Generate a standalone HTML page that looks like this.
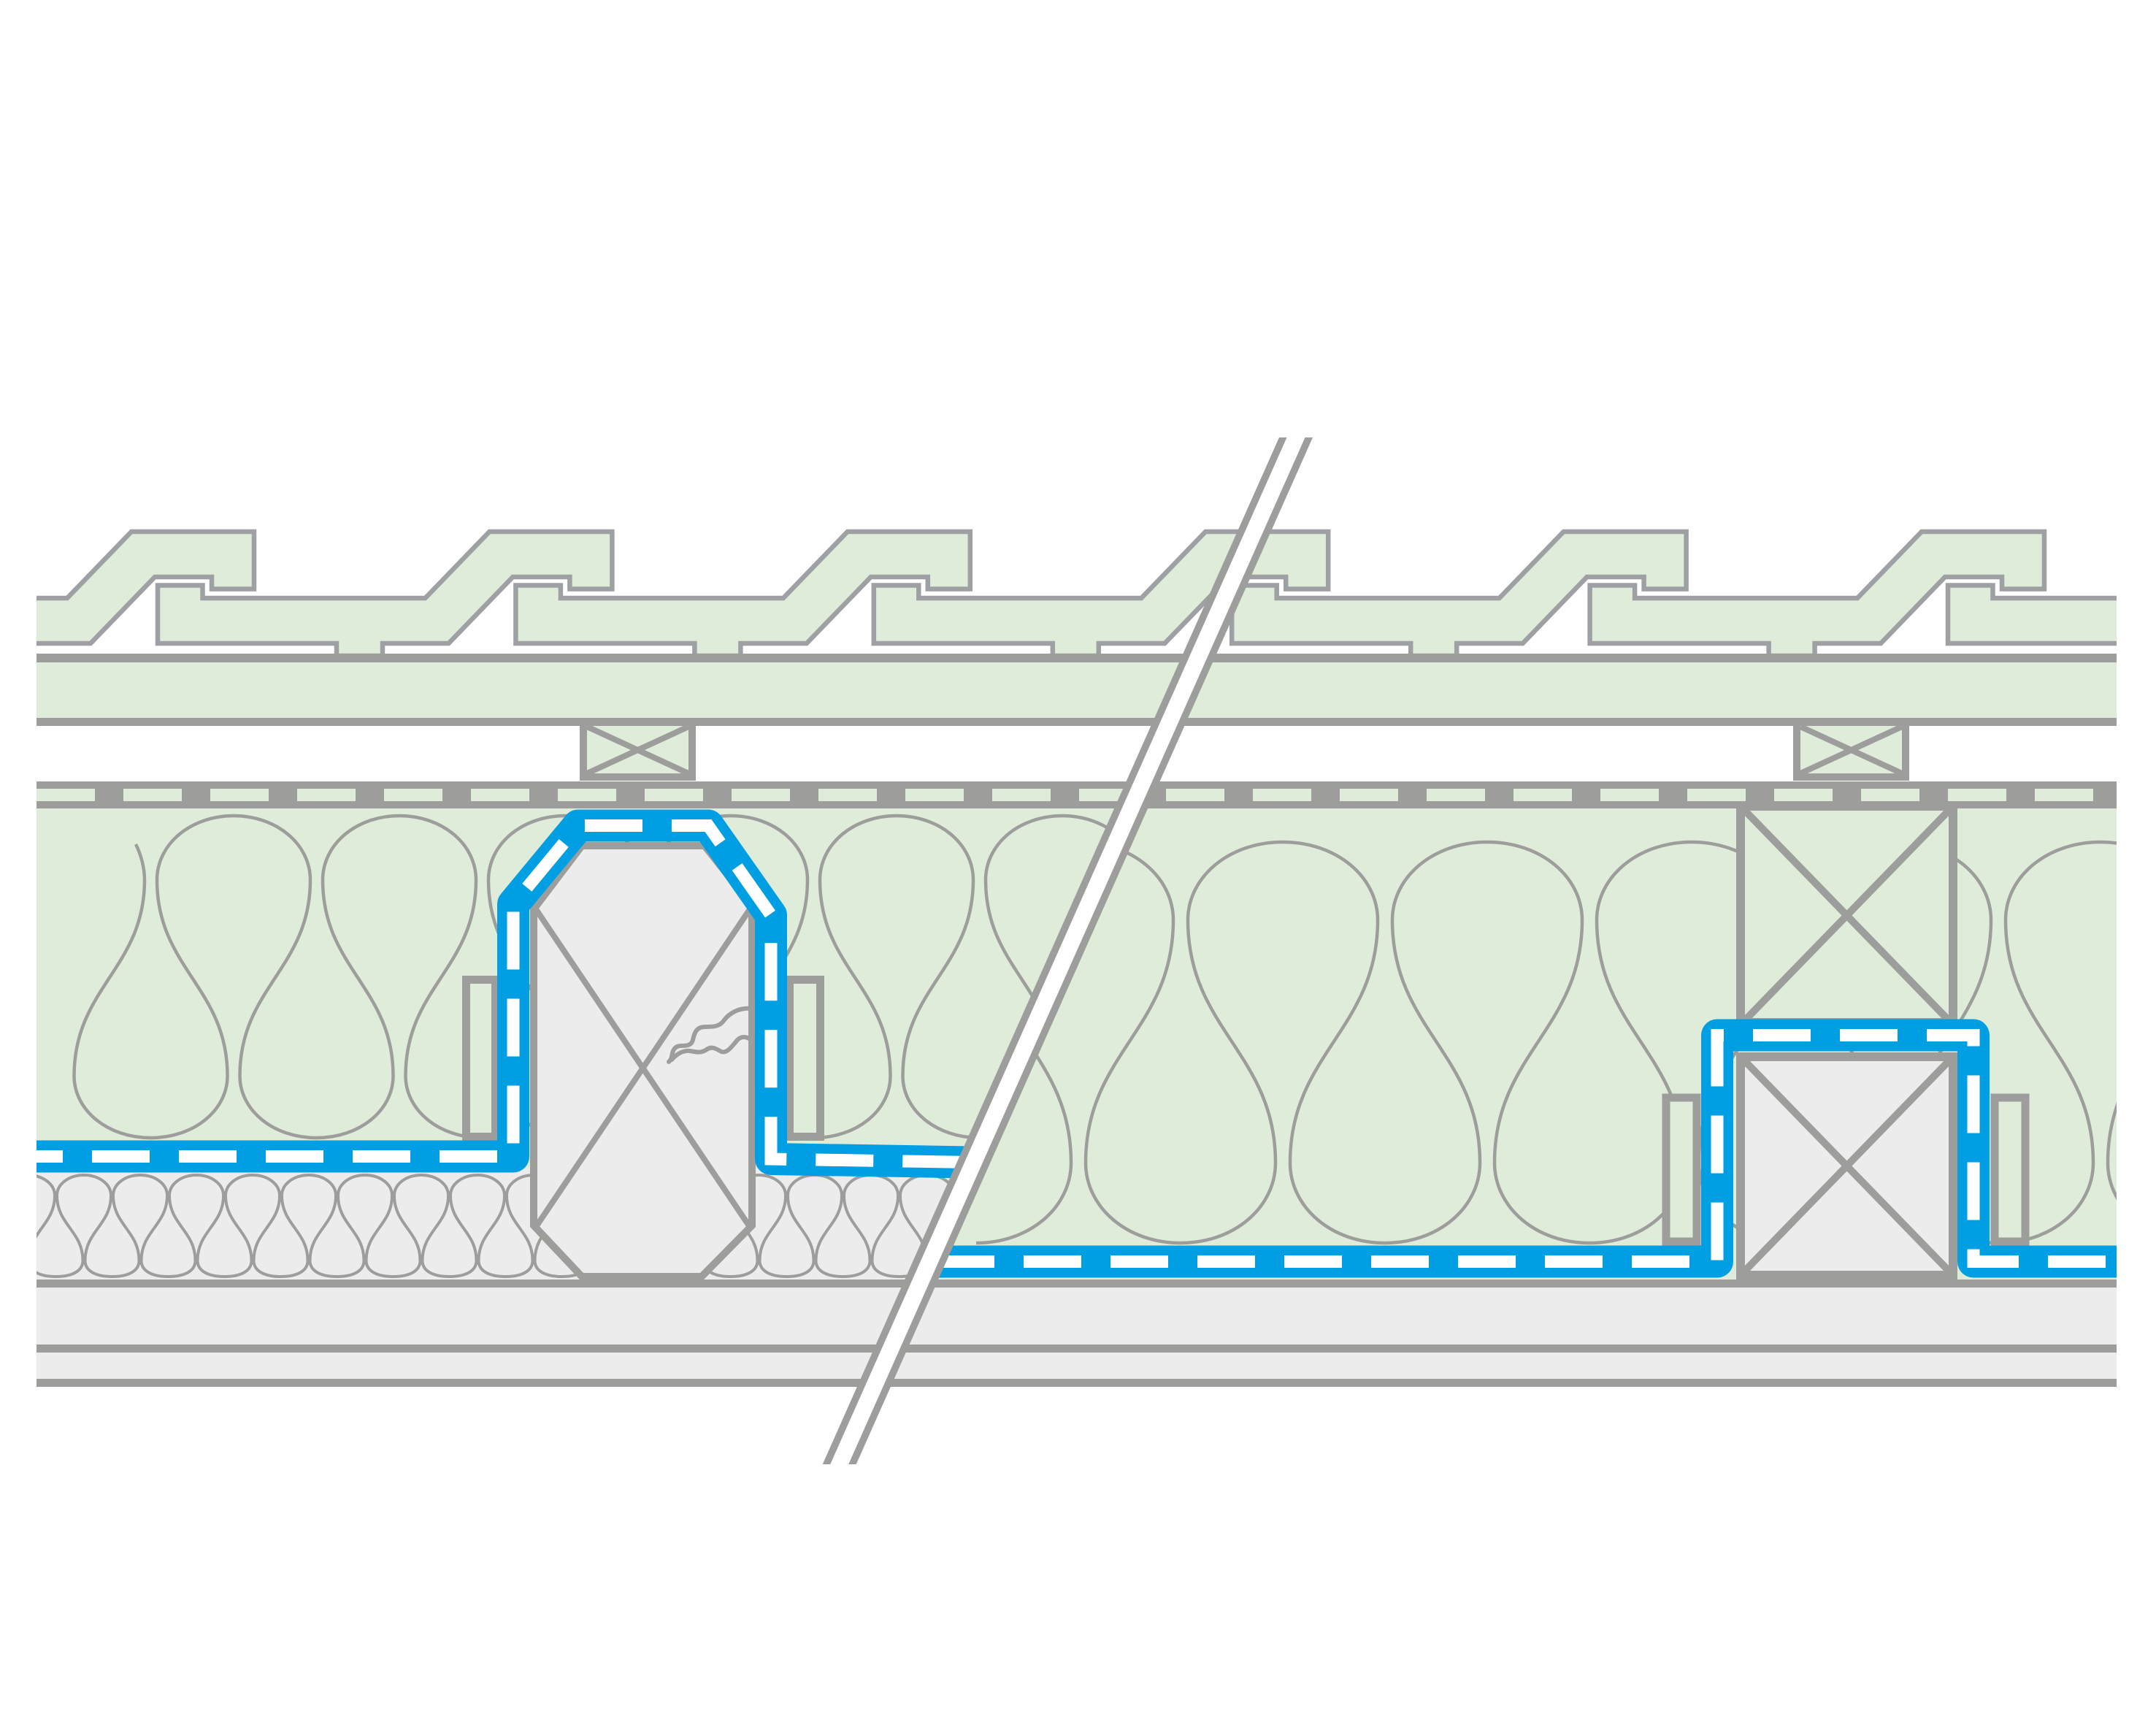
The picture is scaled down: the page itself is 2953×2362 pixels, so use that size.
<!DOCTYPE html>
<html>
<head>
<meta charset="utf-8">
<style>
html,body{margin:0;padding:0;background:#ffffff;}
svg{display:block;}
</style>
</head>
<body>
<svg xmlns="http://www.w3.org/2000/svg" width="2953" height="2362" viewBox="0 0 2953 2362">
<defs>
  <clipPath id="cT"><rect x="50" y="0" width="2849" height="2362"/></clipPath>
  <clipPath id="cL"><polygon points="50,0 2041.4,0 991,2362 50,2362"/></clipPath>
  <clipPath id="cR"><polygon points="2041.4,0 2899,0 2899,2362 991,2362"/></clipPath>
  <clipPath id="cBox1"><rect x="804" y="994" width="139" height="65"/></clipPath>
  <clipPath id="cBox2"><rect x="2466" y="994" width="139" height="65"/></clipPath>
  <clipPath id="cBeamL"><polygon points="797,1158 965,1158 1030,1240 1030,1678 961,1748 797,1748 731,1678 731,1245"/></clipPath>
  <clipPath id="cXR"><rect x="2390" y="1107" width="279" height="290"/></clipPath>
  <clipPath id="cBR"><rect x="2390" y="1453" width="279" height="287"/></clipPath>
</defs>

<rect x="0" y="0" width="2953" height="2362" fill="#ffffff"/>

<!-- Roof tiles -->
<g clip-path="url(#cT)" fill="#dfecda" stroke="#9ea0a4" stroke-width="6.5" stroke-linejoin="miter">
  <polygon transform="translate(0,0)" points="-274.4,801.5 -212.9,801.5 -212.9,819 92,819 180,728 348,728 348,806.5 290,806.5 290,790 212,790 124,881 33.6,881 33.6,898 -29.4,898 -29.4,881 -274.4,881"/>
  <polygon transform="translate(490.4,0)" points="-274.4,801.5 -212.9,801.5 -212.9,819 92,819 180,728 348,728 348,806.5 290,806.5 290,790 212,790 124,881 33.6,881 33.6,898 -29.4,898 -29.4,881 -274.4,881"/>
  <polygon transform="translate(980.8,0)" points="-274.4,801.5 -212.9,801.5 -212.9,819 92,819 180,728 348,728 348,806.5 290,806.5 290,790 212,790 124,881 33.6,881 33.6,898 -29.4,898 -29.4,881 -274.4,881"/>
  <polygon transform="translate(1471.2,0)" points="-274.4,801.5 -212.9,801.5 -212.9,819 92,819 180,728 348,728 348,806.5 290,806.5 290,790 212,790 124,881 33.6,881 33.6,898 -29.4,898 -29.4,881 -274.4,881"/>
  <polygon transform="translate(1961.6,0)" points="-274.4,801.5 -212.9,801.5 -212.9,819 92,819 180,728 348,728 348,806.5 290,806.5 290,790 212,790 124,881 33.6,881 33.6,898 -29.4,898 -29.4,881 -274.4,881"/>
  <polygon transform="translate(2452,0)" points="-274.4,801.5 -212.9,801.5 -212.9,819 92,819 180,728 348,728 348,806.5 290,806.5 290,790 212,790 124,881 33.6,881 33.6,898 -29.4,898 -29.4,881 -274.4,881"/>
  <polygon transform="translate(2942.4,0)" points="-274.4,801.5 -212.9,801.5 -212.9,819 92,819 180,728 348,728 348,806.5 290,806.5 290,790 212,790 124,881 33.6,881 33.6,898 -29.4,898 -29.4,881 -274.4,881"/>
</g>

<!-- Batten band -->
<rect x="50" y="895" width="2849" height="99" fill="#dfecda"/>
<rect x="50" y="895" width="2849" height="12" fill="#9d9d9c"/>
<rect x="50" y="983" width="2849" height="11" fill="#9d9d9c"/>

<!-- Small X boxes (counter battens) -->
<rect x="799" y="989" width="149" height="75" fill="#dfecda" stroke="#9d9d9c" stroke-width="10"/>
<g clip-path="url(#cBox1)" stroke="#9d9d9c" stroke-width="8">
  <line x1="804" y1="995" x2="943" y2="1059"/>
  <line x1="943" y1="995" x2="804" y2="1059"/>
</g>
<rect x="2461" y="989" width="149" height="75" fill="#dfecda" stroke="#9d9d9c" stroke-width="10"/>
<g clip-path="url(#cBox2)" stroke="#9d9d9c" stroke-width="8">
  <line x1="2466" y1="995" x2="2605" y2="1059"/>
  <line x1="2605" y1="995" x2="2466" y2="1059"/>
</g>

<!-- Dashed strip -->
<rect x="50" y="1070" width="2849" height="37" fill="#9d9d9c"/>
<rect x="50" y="1080" width="2849" height="17" fill="#dfecda"/>
<line x1="50" y1="1088.5" x2="2899" y2="1088.5" stroke="#9d9d9c" stroke-width="18" stroke-dasharray="39 80" stroke-dashoffset="39"/>

<!-- LEFT DETAIL -->
<g clip-path="url(#cL)">
  <rect x="50" y="1107" width="1500" height="493" fill="#dfecda"/>
  <rect x="50" y="1600" width="1500" height="152" fill="#ececec"/>
  <!-- big insulation loops -->
  <path fill="none" stroke="#9d9d9c" stroke-width="4.5" d="M186,1156 C193,1170 198,1188 198,1205 c0,120.6 -96.5,147.4 -96.5,268 c0,47.6 46.2,85 105,85 c58.8,0 105,-37.4 105,-85 c0,-120.6 -96.5,-147.4 -96.5,-268
  c0,-49.3 46.2,-88 105,-88 c58.8,0 105,38.7 105,88 c0,120.6 -96.5,147.4 -96.5,268 c0,47.6 46.2,85 105,85 c58.8,0 105,-37.4 105,-85 c0,-120.6 -96.5,-147.4 -96.5,-268
  c0,-49.3 46.2,-88 105,-88 c58.8,0 105,38.7 105,88 c0,120.6 -96.5,147.4 -96.5,268 c0,47.6 46.2,85 105,85 c58.8,0 105,-37.4 105,-85 c0,-120.6 -96.5,-147.4 -96.5,-268
  c0,-49.3 46.2,-88 105,-88 c58.8,0 105,38.7 105,88 c0,120.6 -96.5,147.4 -96.5,268 c0,47.6 46.2,85 105,85 c58.8,0 105,-37.4 105,-85 c0,-120.6 -96.5,-147.4 -96.5,-268
  c0,-49.3 46.2,-88 105,-88 c58.8,0 105,38.7 105,88 c0,120.6 -96.5,147.4 -96.5,268 c0,47.6 46.2,85 105,85 c58.8,0 105,-37.4 105,-85 c0,-120.6 -96.5,-147.4 -96.5,-268
  c0,-49.3 46.2,-88 105,-88 c58.8,0 105,38.7 105,88 c0,120.6 -96.5,147.4 -96.5,268 c0,47.6 46.2,85 105,85 c58.8,0 105,-37.4 105,-85 c0,-120.6 -96.5,-147.4 -96.5,-268
  c0,-49.3 46.2,-88 105,-88 c58.8,0 105,38.7 105,88 c0,120.6 -96.5,147.4 -96.5,268 c0,47.6 46.2,85 105,85 c58.8,0 105,-37.4 105,-85 c0,-120.6 -96.5,-147.4 -96.5,-268
  c0,-49.3 46.2,-88 105,-88 c58.8,0 105,38.7 105,88 c0,120.6 -96.5,147.4 -96.5,268 c0,47.6 46.2,85 105,85 c58.8,0 105,-37.4 105,-85 c0,-120.6 -96.5,-147.4 -96.5,-268"/>
  <!-- small insulation loops -->
  <path fill="none" stroke="#9d9d9c" stroke-width="4" d="M1,1637
  c0,-15.7 16.3,-28 37,-28 c20.7,0 37,12.3 37,28 c0,40 -35.5,49 -35.5,89 c0,14 14,22 37,22 c23,0 37,-8 37,-22 c0,-40 -35.5,-49 -35.5,-89
  c0,-15.7 16.3,-28 37,-28 c20.7,0 37,12.3 37,28 c0,40 -35.5,49 -35.5,89 c0,14 14,22 37,22 c23,0 37,-8 37,-22 c0,-40 -35.5,-49 -35.5,-89
  c0,-15.7 16.3,-28 37,-28 c20.7,0 37,12.3 37,28 c0,40 -35.5,49 -35.5,89 c0,14 14,22 37,22 c23,0 37,-8 37,-22 c0,-40 -35.5,-49 -35.5,-89
  c0,-15.7 16.3,-28 37,-28 c20.7,0 37,12.3 37,28 c0,40 -35.5,49 -35.5,89 c0,14 14,22 37,22 c23,0 37,-8 37,-22 c0,-40 -35.5,-49 -35.5,-89
  c0,-15.7 16.3,-28 37,-28 c20.7,0 37,12.3 37,28 c0,40 -35.5,49 -35.5,89 c0,14 14,22 37,22 c23,0 37,-8 37,-22 c0,-40 -35.5,-49 -35.5,-89
  c0,-15.7 16.3,-28 37,-28 c20.7,0 37,12.3 37,28 c0,40 -35.5,49 -35.5,89 c0,14 14,22 37,22 c23,0 37,-8 37,-22 c0,-40 -35.5,-49 -35.5,-89
  c0,-15.7 16.3,-28 37,-28 c20.7,0 37,12.3 37,28 c0,40 -35.5,49 -35.5,89 c0,14 14,22 37,22 c23,0 37,-8 37,-22 c0,-40 -35.5,-49 -35.5,-89
  c0,-15.7 16.3,-28 37,-28 c20.7,0 37,12.3 37,28 c0,40 -35.5,49 -35.5,89 c0,14 14,22 37,22 c23,0 37,-8 37,-22 c0,-40 -35.5,-49 -35.5,-89
  c0,-15.7 16.3,-28 37,-28 c20.7,0 37,12.3 37,28 c0,40 -35.5,49 -35.5,89 c0,14 14,22 37,22 c23,0 37,-8 37,-22 c0,-40 -35.5,-49 -35.5,-89
  c0,-15.7 16.3,-28 37,-28 c20.7,0 37,12.3 37,28 c0,40 -35.5,49 -35.5,89 c0,14 14,22 37,22 c23,0 37,-8 37,-22 c0,-40 -35.5,-49 -35.5,-89
  c0,-15.7 16.3,-28 37,-28 c20.7,0 37,12.3 37,28 c0,40 -35.5,49 -35.5,89 c0,14 14,22 37,22 c23,0 37,-8 37,-22 c0,-40 -35.5,-49 -35.5,-89
  c0,-15.7 16.3,-28 37,-28 c20.7,0 37,12.3 37,28 c0,40 -35.5,49 -35.5,89 c0,14 14,22 37,22 c23,0 37,-8 37,-22 c0,-40 -35.5,-49 -35.5,-89
  c0,-15.7 16.3,-28 37,-28 c20.7,0 37,12.3 37,28 c0,40 -35.5,49 -35.5,89 c0,14 14,22 37,22 c23,0 37,-8 37,-22 c0,-40 -35.5,-49 -35.5,-89
  c0,-15.7 16.3,-28 37,-28 c20.7,0 37,12.3 37,28 c0,40 -35.5,49 -35.5,89 c0,14 14,22 37,22 c23,0 37,-8 37,-22 c0,-40 -35.5,-49 -35.5,-89
  c0,-15.7 16.3,-28 37,-28 c20.7,0 37,12.3 37,28 c0,40 -35.5,49 -35.5,89 c0,14 14,22 37,22 c23,0 37,-8 37,-22 c0,-40 -35.5,-49 -35.5,-89
  c0,-15.7 16.3,-28 37,-28 c20.7,0 37,12.3 37,28 c0,40 -35.5,49 -35.5,89 c0,14 14,22 37,22 c23,0 37,-8 37,-22 c0,-40 -35.5,-49 -35.5,-89
  c0,-15.7 16.3,-28 37,-28 c20.7,0 37,12.3 37,28 c0,40 -35.5,49 -35.5,89 c0,14 14,22 37,22 c23,0 37,-8 37,-22 c0,-40 -35.5,-49 -35.5,-89
  c0,-15.7 16.3,-28 37,-28 c20.7,0 37,12.3 37,28 c0,40 -35.5,49 -35.5,89 c0,14 14,22 37,22 c23,0 37,-8 37,-22 c0,-40 -35.5,-49 -35.5,-89
  c0,-15.7 16.3,-28 37,-28 c20.7,0 37,12.3 37,28 c0,40 -35.5,49 -35.5,89 c0,14 14,22 37,22 c23,0 37,-8 37,-22 c0,-40 -35.5,-49 -35.5,-89"/>
  <!-- battens -->
  <rect x="638.5" y="1341.5" width="40" height="215" fill="#dfecda" stroke="#9d9d9c" stroke-width="11"/>
  <rect x="1081.5" y="1341.5" width="42" height="215" fill="#dfecda" stroke="#9d9d9c" stroke-width="11"/>
  <!-- rafter -->
  <polygon points="797,1158 965,1158 1030,1240 1030,1678 961,1748 797,1748 731,1678 731,1245" fill="#ececec" stroke="#9d9d9c" stroke-width="10"/>
  <g clip-path="url(#cBeamL)" stroke="#9d9d9c" stroke-width="8">
    <line x1="734" y1="1245" x2="1027" y2="1680"/>
    <line x1="1027" y1="1245" x2="734" y2="1680"/>
  </g>
  <path fill="none" stroke="#9d9d9c" stroke-width="6" stroke-linecap="round" d="M1030,1381 C1012,1379 998,1388 991,1398 C985,1406 976,1406 966,1406 C954,1406 951,1414 949,1424 C947,1431 942,1432 933,1432 C923,1432 921,1440 920,1447 C919,1451 917,1453 916,1454 M920,1451 C927,1443 935,1438 945,1439 C955,1441 961,1442 968,1437 C975,1432 981,1436 988,1440 C996,1443 1003,1432 1010,1424 C1016,1418 1024,1419 1031,1426"/>
  <!-- membrane -->
  <path fill="none" stroke="#009fe3" stroke-width="44" stroke-linejoin="round" d="M50,1583.5 L703,1583.5 L703,1238 L792,1130.5 L970,1130.5 L1056,1253 L1056,1587 L1420,1593"/>
  <path fill="none" stroke="#ffffff" stroke-width="17" stroke-dasharray="79 40" stroke-dashoffset="43" d="M50,1583.5 L703,1583.5 L703,1238 L792,1130.5 L970,1130.5 L1056,1253 L1056,1587 L1420,1593"/>
</g>

<!-- RIGHT DETAIL -->
<g clip-path="url(#cR)">
  <rect x="1000" y="1107" width="1899" height="645" fill="#dfecda"/>
  <path fill="none" stroke="#9d9d9c" stroke-width="4.5" d="M1337,1702 c72.8,0 130,-48.4 130,-110 c0,-149.4 -120,-182.6 -120,-332
  c0,-59.9 57.2,-107 130,-107 c72.8,0 130,47.1 130,107 c0,149.4 -120,182.6 -120,332 c0,61.6 57.2,110 130,110 c72.8,0 130,-48.4 130,-110 c0,-149.4 -120,-182.6 -120,-332
  c0,-59.9 57.2,-107 130,-107 c72.8,0 130,47.1 130,107 c0,149.4 -120,182.6 -120,332 c0,61.6 57.2,110 130,110 c72.8,0 130,-48.4 130,-110 c0,-149.4 -120,-182.6 -120,-332
  c0,-59.9 57.2,-107 130,-107 c72.8,0 130,47.1 130,107 c0,149.4 -120,182.6 -120,332 c0,61.6 57.2,110 130,110 c72.8,0 130,-48.4 130,-110 c0,-149.4 -120,-182.6 -120,-332
  c0,-59.9 57.2,-107 130,-107 c72.8,0 130,47.1 130,107 c0,149.4 -120,182.6 -120,332 c0,61.6 57.2,110 130,110 c72.8,0 130,-48.4 130,-110 c0,-149.4 -120,-182.6 -120,-332
  c0,-59.9 57.2,-107 130,-107 c72.8,0 130,47.1 130,107 c0,149.4 -120,182.6 -120,332 c0,61.6 57.2,110 130,110 c72.8,0 130,-48.4 130,-110 c0,-149.4 -120,-182.6 -120,-332
  c0,-59.9 57.2,-107 130,-107 c72.8,0 130,47.1 130,107 c0,149.4 -120,182.6 -120,332 c0,61.6 57.2,110 130,110 c72.8,0 130,-48.4 130,-110 c0,-149.4 -120,-182.6 -120,-332"/>
  <!-- upper rafter box -->
  <rect x="2384" y="1104" width="291" height="296" fill="#dfecda" stroke="#9d9d9c" stroke-width="12"/>
  <g clip-path="url(#cXR)" stroke="#9d9d9c" stroke-width="10">
    <line x1="2390" y1="1110" x2="2669" y2="1397"/>
    <line x1="2669" y1="1110" x2="2390" y2="1397"/>
  </g>
  <!-- lower beam -->
  <rect x="2384" y="1447" width="291" height="299" fill="#ececec" stroke="#9d9d9c" stroke-width="12"/>
  <g clip-path="url(#cBR)" stroke="#9d9d9c" stroke-width="10">
    <line x1="2390" y1="1453" x2="2669" y2="1740"/>
    <line x1="2669" y1="1453" x2="2390" y2="1740"/>
  </g>
  <!-- battens -->
  <rect x="2282" y="1503" width="42" height="197" fill="#dfecda" stroke="#9d9d9c" stroke-width="11"/>
  <rect x="2732" y="1503" width="42" height="197" fill="#dfecda" stroke="#9d9d9c" stroke-width="11"/>
  <!-- membrane -->
  <path fill="none" stroke="#009fe3" stroke-width="44" stroke-linejoin="round" d="M1250,1727.5 L2352,1727.5 L2352,1417.5 L2703,1417.5 L2703,1727.5 L2910,1727.5"/>
  <path fill="none" stroke="#ffffff" stroke-width="17" stroke-dasharray="79 40" stroke-dashoffset="86" d="M1250,1727.5 L2352,1727.5 L2352,1417.5 L2703,1417.5 L2703,1727.5 L2910,1727.5"/>
</g>

<!-- Strip bottom line redrawn over box top -->
<rect x="2378" y="1097" width="303" height="10" fill="#9d9d9c"/>

<!-- Ceiling layers -->
<rect x="50" y="1752" width="2849" height="147" fill="#ececec"/>
<rect x="50" y="1752" width="2849" height="11" fill="#9d9d9c"/>
<rect x="50" y="1841" width="2849" height="11" fill="#9d9d9c"/>
<rect x="50" y="1888" width="2849" height="11" fill="#9d9d9c"/>

<!-- Break line -->
<polygon points="1752,599 1798,599 1172.7,2005 1126.7,2005" fill="#9d9d9c"/>
<polygon points="1762.5,599 1787.5,599 1162.2,2005 1137.2,2005" fill="#ffffff"/>
</svg>
</body>
</html>
